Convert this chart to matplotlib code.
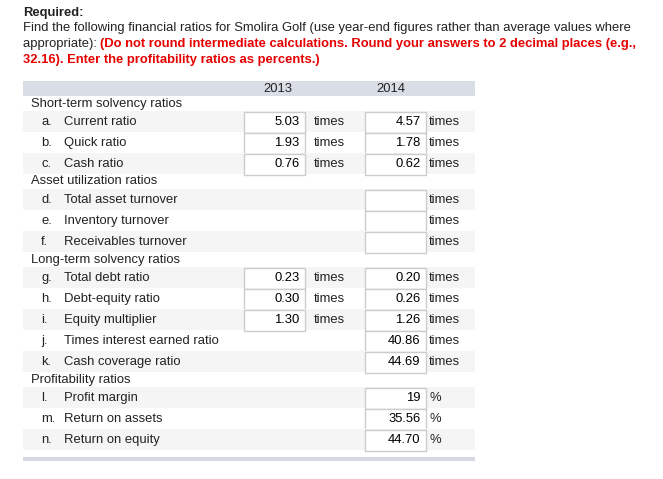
import matplotlib
matplotlib.use("Agg")
import matplotlib.pyplot as plt
from matplotlib.patches import Rectangle

plt.rcParams['font.family'] = ['Liberation Sans', 'DejaVu Sans']

# ---- content ----
title = "Required:"
intro = ("Find the following financial ratios for Smolira Golf (use year-end figures rather than average values where",
         "appropriate): ")
note = ("(Do not round intermediate calculations. Round your answers to 2 decimal places (e.g.,",
        "32.16). Enter the profitability ratios as percents.)")
years = ["2013", "2014"]

sections = ["Short-term solvency ratios", "Asset utilization ratios",
            "Long-term solvency ratios", "Profitability ratios"]
letters = [["a.", "b.", "c."], ["d.", "e.", "f."],
           ["g.", "h.", "i.", "j.", "k."], ["l.", "m.", "n."]]
items = [["Current ratio", "Quick ratio", "Cash ratio"],
         ["Total asset turnover", "Inventory turnover", "Receivables turnover"],
         ["Total debt ratio", "Debt-equity ratio", "Equity multiplier",
          "Times interest earned ratio", "Cash coverage ratio"],
         ["Profit margin", "Return on assets", "Return on equity"]]
# None = no box in that column; "" = empty box
values_2013 = [["5.03", "1.93", "0.76"], [None, None, None],
               ["0.23", "0.30", "1.30", None, None], [None, None, None]]
values_2014 = [["4.57", "1.78", "0.62"], ["", "", ""],
               ["0.20", "0.26", "1.26", "40.86", "44.69"], ["19", "35.56", "44.70"]]
units = ["times", "times", "times", "%"]

# ---- layout (pixel coordinates) ----
W, H = 663, 479
FS = 9.4
TXT = "#222222"
RED = "#e60000"
X0, X1 = 23, 475
HEAD_Y0, HEAD_Y1 = 81, 96
SEC_H, ROW_H = 15, 21
BOX = [(243.5, 305), (365, 426)]
VAL_X = [299.5, 420.5]
UNIT_X = [314, 429]

fig = plt.figure(figsize=(W / 100, H / 100), dpi=100)
ax = fig.add_axes([0, 0, 1, 1])
ax.set_xlim(0, W)
ax.set_ylim(H, 0)
ax.axis("off")

# header text
ax.text(23, 12.5, title, fontsize=FS, fontweight="bold", color=TXT, va="center")
ax.text(23, 28, intro[0], fontsize=FS, color=TXT, va="center")
t = ax.text(23, 44, intro[1], fontsize=FS, color=TXT, va="center")
fig.canvas.draw()
bb = t.get_window_extent().transformed(ax.transData.inverted())
ax.text(bb.x1, 44, note[0], fontsize=FS, fontweight="bold", color=RED, va="center")
ax.text(23, 59.5, note[1], fontsize=FS, fontweight="bold", color=RED, va="center")

# column header band
ax.add_patch(Rectangle((X0, HEAD_Y0), X1 - X0, HEAD_Y1 - HEAD_Y0,
                       facecolor="#d9dde6", edgecolor="none"))
ax.text(278, 88.5, years[0], fontsize=FS, color=TXT, ha="center", va="center")
ax.text(391, 88.5, years[1], fontsize=FS, color=TXT, ha="center", va="center")

y = HEAD_Y1
for s, sec in enumerate(sections):
    ax.text(31, y + SEC_H / 2, sec, fontsize=FS, color=TXT, va="center")
    y += SEC_H
    for i, name in enumerate(items[s]):
        if i % 2 == 0:
            ax.add_patch(Rectangle((X0, y), X1 - X0, ROW_H,
                                   facecolor="#f5f5f5", edgecolor="none"))
        yc = y + ROW_H / 2 + 0.5
        ax.text(41, yc, letters[s][i], fontsize=FS, color=TXT, va="center")
        ax.text(64, yc, name, fontsize=FS, color=TXT, va="center")
        for c, vals in enumerate([values_2013, values_2014]):
            v = vals[s][i]
            if v is None:
                continue
            bx0, bx1 = BOX[c]
            ax.add_patch(Rectangle((bx0, y + 0.5), bx1 - bx0, ROW_H,
                                   facecolor="white", edgecolor="#cccccc", lw=1.0))
            ax.text(VAL_X[c], yc, v, fontsize=FS, color="black", ha="right", va="center")
            ax.text(UNIT_X[c], yc, units[s], fontsize=FS, color=TXT, va="center")
        y += ROW_H

ax.add_patch(Rectangle((X0, 457), X1 - X0, 4, facecolor="#d3d8e2", edgecolor="none"))

fig.savefig("out.png", dpi=100)
